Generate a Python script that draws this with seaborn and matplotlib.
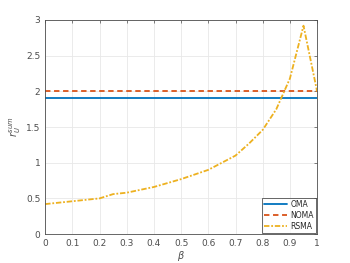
import matplotlib
matplotlib.use("Agg")
import matplotlib.pyplot as plt
import seaborn as sns
import pandas as pd
import numpy as np

beta = [0.0, 0.1, 0.2, 0.25, 0.3, 0.4, 0.5, 0.6, 0.7, 0.75, 0.8, 0.85, 0.9, 0.95, 1.0]
rsma = [0.42, 0.46, 0.50, 0.56, 0.58, 0.66, 0.77, 0.90, 1.10, 1.27, 1.46, 1.75, 2.18, 2.92, 2.00]
oma_val = 1.9
noma_val = 2.0
xticks = [0, 0.1, 0.2, 0.3, 0.4, 0.5, 0.6, 0.7, 0.8, 0.9, 1]
yticks = [0, 0.5, 1, 1.5, 2, 2.5, 3]

sns.set_style("white")
plt.rcParams['font.family'] = ['DejaVu Sans']

df = pd.DataFrame({
    "beta": beta * 3,
    "val": [oma_val] * len(beta) + [noma_val] * len(beta) + rsma,
    "scheme": ["OMA"] * len(beta) + ["NOMA"] * len(beta) + ["RSMA"] * len(beta),
})

fig = plt.figure(figsize=(3.5, 2.63), dpi=100)
ax = fig.add_axes([0.129, 0.110, 0.777, 0.814])

palette = {"OMA": "#0072BD", "NOMA": "#D95319", "RSMA": "#EDB120"}
sns.lineplot(data=df, x="beta", y="val", hue="scheme", style="scheme",
             palette=palette,
             dashes={"OMA": "", "NOMA": (3, 2), "RSMA": (3, 1, 1, 1)},
             linewidth=1.3, ax=ax, legend=True)

ax.set_xlim(0, 1)
ax.set_ylim(0, 3)
ax.set_xticks(xticks)
ax.set_xticklabels([f"{t:g}" for t in xticks])
ax.set_yticks(yticks)
ax.set_yticklabels([f"{t:g}" for t in yticks])
ax.tick_params(direction="in", labelsize=6.5, colors="#4d4d4d", length=2.5, width=0.5,
               top=True, right=True)
ax.grid(True, color="#e8e8e8", linewidth=0.6)
for s in ax.spines.values():
    s.set_color("#4d4d4d")
    s.set_linewidth(0.6)
ax.set_xlabel(r"$\beta$", fontsize=7, color="#4d4d4d", labelpad=1)
ax.set_ylabel(r"$r_U^{sum}$", fontsize=7, color="#4d4d4d", labelpad=2)

leg = ax.legend(loc="lower right", fontsize=5.5, frameon=True, fancybox=False,
                handlelength=3.0, handletextpad=0.4, borderpad=0.3,
                labelspacing=0.25, borderaxespad=0.15)
leg.get_frame().set_edgecolor("#262626")
leg.get_frame().set_linewidth(0.6)

fig.savefig("out.png", dpi=100)
